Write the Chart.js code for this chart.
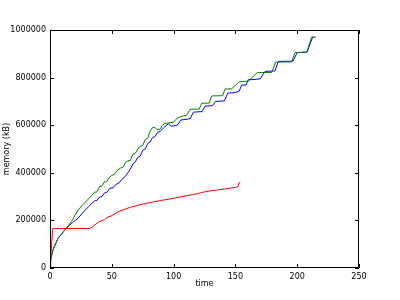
<!DOCTYPE html>
<html>
<head>
<meta charset="utf-8">
<script src="https://cdn.jsdelivr.net/npm/chart.js@4"></script>
<style>
  html, body { margin: 0; padding: 0; background: #fff; }
  #wrap { width: 400px; height: 300px; }
</style>
</head>
<body>
<div id="wrap"><canvas id="memChart" width="400" height="300"></canvas></div>
<script>
// values (time, memory in kB)
const xTicks = [0, 50, 100, 150, 200, 250];
const yTicks = [0, 200000, 400000, 600000, 800000, 1000000];

const blueTime = [0, 0.5, 2.4, 6.5, 13.2, 18, 22.7, 27, 32, 36, 38, 40, 42, 44, 46, 48.5, 51, 53, 56, 58, 61, 63, 65, 67.4, 69, 71, 73, 75, 77, 79, 81, 83, 85, 87, 89, 91.7, 95.7, 98, 100, 103, 106, 111, 113.5, 116, 123, 125.5, 131.5, 134, 141, 144, 149.5, 153, 155, 158.6, 160.4, 165.9, 170, 174, 182, 184.7, 196.5, 200, 208, 212.5, 213.5];
const blueMem  = [0, 34000, 76000, 125000, 167000, 190000, 209000, 235000, 262000, 282000, 284000, 298000, 300000, 315000, 318000, 335000, 337000, 350000, 358000, 372000, 385000, 400000, 415000, 440000, 445000, 465000, 470000, 495000, 500000, 522000, 530000, 548000, 552000, 570000, 573000, 588000, 606000, 596000, 597000, 600000, 622000, 625000, 628000, 655000, 657000, 680000, 682000, 700000, 702000, 735000, 737000, 742000, 768000, 769000, 791000, 792000, 795000, 826000, 828000, 868000, 869000, 905000, 907000, 970000, 970000];

const greenTime = [0, 0.5, 2.4, 6.5, 13, 18, 22.7, 27, 32, 36, 38, 40, 42, 44, 46, 48, 50, 52, 54, 57, 59, 61, 63, 65, 67, 69, 71, 73, 75, 77, 79, 81, 83, 85, 86.5, 89, 91, 93, 97, 100, 103, 108, 110.6, 113.3, 120.8, 122.7, 128.9, 130.8, 139.7, 141.6, 147, 153.2, 160.4, 167.7, 179.4, 182.6, 195.5, 198.2, 207.7, 211.7, 215.2];
const greenMem  = [0, 34000, 76000, 125000, 167000, 200000, 244000, 268000, 295000, 318000, 320000, 342000, 344000, 362000, 364000, 380000, 390000, 392000, 408000, 420000, 422000, 442000, 450000, 452000, 478000, 482000, 500000, 512000, 514000, 540000, 545000, 575000, 590000, 590000, 582000, 583000, 600000, 608000, 610000, 613000, 630000, 640000, 641000, 667000, 668000, 692000, 693000, 723000, 724000, 752000, 753000, 783000, 785000, 821000, 822000, 865000, 866000, 905000, 907000, 970000, 970000];

const redTime = [0, 2.2, 10, 20, 32, 35, 39, 42, 44, 46, 50, 55, 60, 65, 70, 75, 80, 85, 90, 100, 110, 120, 125, 130, 140, 150, 152, 153, 154];
const redMem  = [0, 165000, 166000, 166000, 166000, 175000, 192000, 200000, 202000, 212000, 220000, 236000, 246000, 255000, 262000, 268000, 274000, 279000, 284000, 293000, 303000, 313000, 320000, 324000, 331000, 339000, 342000, 358000, 360000];

function pts(xs, ys) {
  return xs.map((t, i) => ({ x: t, y: ys[i] }));
}

// matplotlib style box with inward ticks on all sides
const frameBox = {
  id: 'frameBox',
  afterDatasetsDraw(chart) {
    const { ctx, chartArea: a, scales } = chart;
    const x = scales.x, y = scales.y;
    ctx.save();
    ctx.strokeStyle = '#000';
    ctx.lineWidth = 1;
    ctx.beginPath();
    ctx.rect(Math.round(a.left) + 0.5, Math.round(a.top) + 0.5, Math.round(a.right - a.left) - 1, Math.round(a.bottom - a.top) - 1);
    xTicks.forEach(v => {
      const px = Math.round(x.getPixelForValue(v)) + 0.5;
      ctx.moveTo(px, a.bottom); ctx.lineTo(px, a.bottom - 4);
      ctx.moveTo(px, a.top); ctx.lineTo(px, a.top + 4);
    });
    yTicks.forEach(v => {
      const py = Math.round(y.getPixelForValue(v)) + 0.5;
      ctx.moveTo(a.left, py); ctx.lineTo(a.left + 4, py);
      ctx.moveTo(a.right, py); ctx.lineTo(a.right - 4, py);
    });
    ctx.stroke();
    ctx.restore();
  }
};

const tickFont = { family: 'DejaVu Sans', size: 8 };

new Chart(document.getElementById('memChart').getContext('2d'), {
  type: 'line',
  data: {
    datasets: [
      { label: 'red', data: pts(redTime, redMem), borderColor: '#ff0000' },
      { label: 'green', data: pts(greenTime, greenMem), borderColor: '#008000' },
      { label: 'blue', data: pts(blueTime, blueMem), borderColor: '#0000ff' }
    ]
  },
  options: {
    responsive: false,
    animation: false,
    events: [],
    datasets: {
      line: { borderWidth: 1, pointRadius: 0, tension: 0, fill: false }
    },
    layout: { padding: { top: 30, right: 41, left: 0, bottom: 0 } },
    plugins: { legend: { display: false }, tooltip: { enabled: false } },
    scales: {
      x: {
        type: 'linear',
        min: 0, max: 250,
        afterBuildTicks: s => { s.ticks = xTicks.map(v => ({ value: v })); },
        afterFit: s => { s.height = 32; },
        grid: { display: false, drawTicks: false },
        border: { display: false },
        ticks: { font: tickFont, color: '#000', padding: 4, maxRotation: 0 },
        title: { display: true, text: 'time', font: tickFont, color: '#000', padding: { top: 0, bottom: 11 } }
      },
      y: {
        min: 0, max: 1000000,
        afterBuildTicks: s => { s.ticks = yTicks.map(v => ({ value: v })); },
        afterFit: s => { s.width = 50; },
        grid: { display: false, drawTicks: false },
        border: { display: false },
        ticks: { font: tickFont, color: '#000', padding: 4, callback: v => String(v) },
        title: { display: true, text: 'memory (kB)', font: tickFont, color: '#000', padding: { top: 2, bottom: 0 } }
      }
    }
  },
  plugins: [frameBox]
});
</script>
</body>
</html>
